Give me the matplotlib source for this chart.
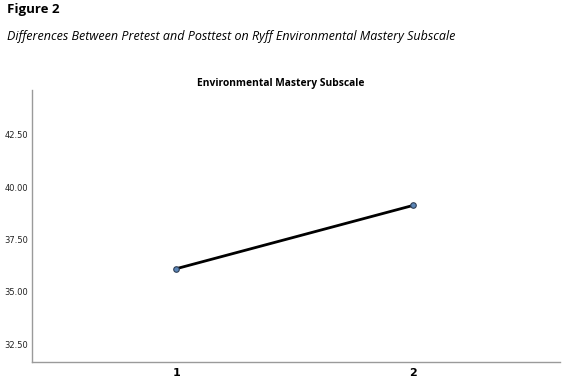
import matplotlib
matplotlib.use("Agg")
import matplotlib.pyplot as plt

times = [1, 2]
means = [36.10, 39.13]
yticks = [32.5, 35.0, 37.5, 40.0, 42.5]

fig = plt.figure(figsize=(5.67, 3.87), dpi=100)
fig.text(0.012, 0.993, "Figure 2", fontsize=9.5, fontweight="bold", family="Open Sans", va="top", ha="left")
fig.text(0.012, 0.905, "Differences Between Pretest and Posttest on Ryff Environmental Mastery Subscale",
         fontsize=9, style="italic", family="Open Sans", va="center", ha="left")
fig.text(0.4956, 0.7855, "Environmental Mastery Subscale", fontsize=7.4, fontweight="bold",
         family="Open Sans", ha="center", va="center")

ax = fig.add_axes([0.0564, 0.0646, 0.9313, 0.7028])
ax.plot(times, means, color="black", lw=2.0, marker="o", ms=4,
        markerfacecolor="#5b86b8", markeredgecolor="#2f3f55", markeredgewidth=0.8, zorder=3)
ax.set_xlim(0.392, 2.62)
ax.set_ylim(31.64, 44.65)
ax.set_yticks(yticks)
ax.set_yticklabels([f"{v:.2f}" for v in yticks], fontsize=6, family="DejaVu Sans", color="#222222")
ax.set_xticks(times)
ax.set_xticklabels([str(t) for t in times], fontsize=8, family="DejaVu Sans", fontweight="bold")
ax.tick_params(axis="x", length=0, pad=4)
ax.tick_params(axis="y", length=0, pad=3)
for s in ["top", "right"]:
    ax.spines[s].set_visible(False)
for s in ["left", "bottom"]:
    ax.spines[s].set_color("#9a9a9a")
    ax.spines[s].set_linewidth(1.0)

fig.savefig("out.png", dpi=100)
